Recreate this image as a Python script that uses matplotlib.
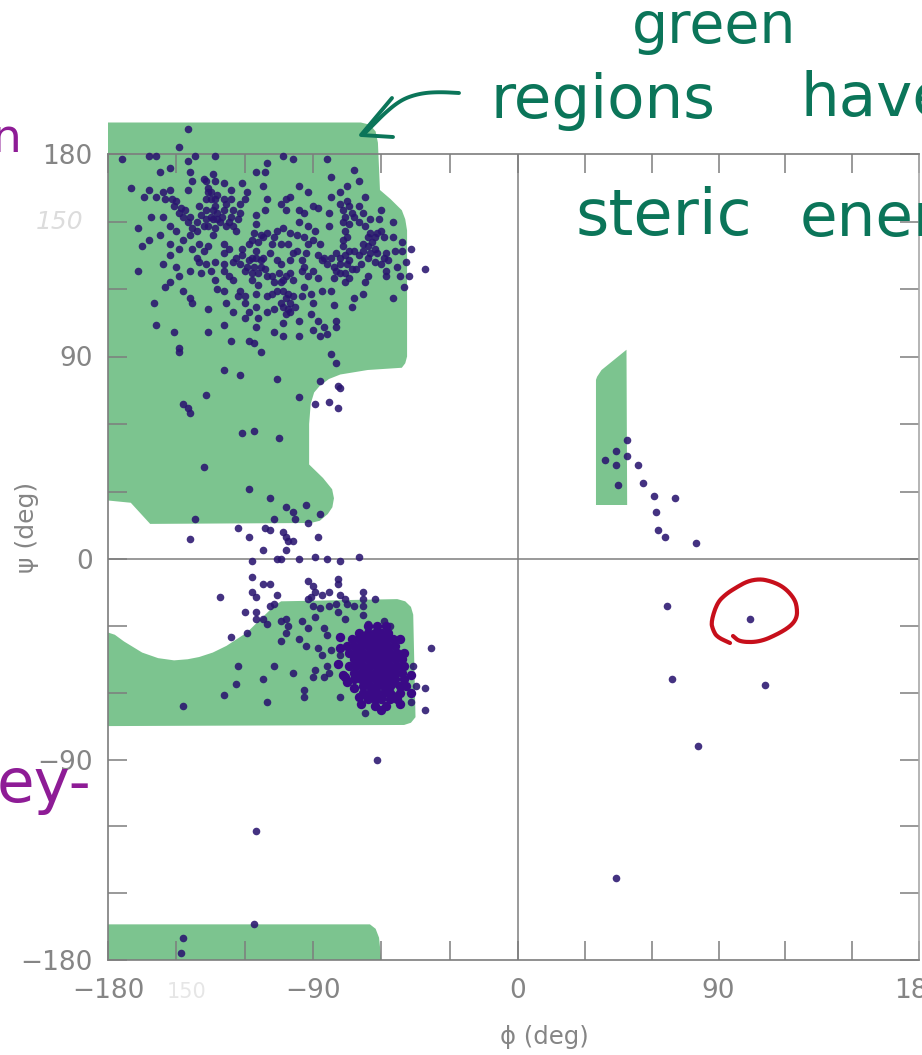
import matplotlib
matplotlib.use("Agg")

import numpy as np
import matplotlib.pyplot as plt

#tick labels
x_ticks = list(range(-180, 181, 30))
y_ticks = list(range(-180, 181, 30))
x_labels = {-180: "\u2212180", -90: "\u221290", 0: "0", 90: "90", 180: "180"}
y_labels = {-180: "\u2212180", -90: "\u221290", 0: "0", 90: "90", 180: "180"}

#green allowed regions (phi, psi)
region_beta = [(-180, 194), (-69, 194), (-65, 193), (-62.5, 190), (-61.5, 185), (-60.6, 164), (-56, 160), (-51, 155),
               (-49.5, 151), (-48.7, 146), (-48.7, 90), (-49.5, 87), (-51, 85), (-66, 84), (-78, 82), (-83, 80),
               (-87, 77), (-89.5, 74), (-91, 69), (-91.7, 60), (-91.7, 42), (-85.6, 36), (-81.6, 31), (-80.8, 27),
               (-81.5, 23), (-83.5, 20), (-87, 17), (-91, 16), (-161.5, 15.6), (-170, 25), (-180, 26)]
region_alpha = [(-180, -33), (-177, -34), (-173, -37), (-165, -42), (-158, -44.5), (-151, -45.5), (-145, -45), (-140, -44),
                (-134, -42), (-128, -39), (-119, -33), (-114, -28), (-110, -24), (-107, -21), (-104, -19), (-53, -18),
                (-49.5, -19), (-47, -21.5), (-46, -25), (-45, -71), (-47, -73.5), (-50, -74.5), (-180, -75)]
region_bottom = [(-180, -164), (-65, -164), (-62.5, -166), (-61, -170), (-60, -180), (-180, -180)]
region_left = [(35, 79.6), (35.5, 81), (37.5, 84), (48.7, 93), (49, 24), (35, 24)]

#residues, upper left
beta_pts = [(-145,191),(-149,183),(-174,178),(-162,179),(-159,179),(-145,177),(-142,179),(-133,179),(-103,179),
    (-99,178),(-84,178),(-144,172),(-153,174),(-157,172),(-115,172),(-111,172),(-110,176),(-72,173),(-82,170),
    (-170,165),(-162,164),(-164,161),(-159,161),(-156,163),(-153,164),(-145,164),(-143,168),(-138,169),(-134,171),
    (-133,168),(-136,165),(-129,167),(-121,167),(-119,163),(-112,166),(-96,166),(-92,163),(-75,166),(-70,168),
    (-78,163),(-67,161),(-82,161),(-151,157),(-148,156),(-146,155),(-144,152),(-141,150),(-138,148),(-135,152),
    (-132,154),(-129,155),(-126,152),(-123,151),(-125,148),(-133,157),(-137,160),(-140,157),(-129,160),(-126,160),
    (-122,158),(-120,160),(-136,163),(-134,151),(-132,151),(-137,151),(-161,152),(-156,152),(-167,147),(-153,148),
    (-157,144),(-150,146),(-162,142),(-165,139),(-153,140),(-153,135),(-149,138),(-147,142),(-156,131),(-150,130),
    (-167,128),(-149,126),(-153,123),(-155,121),(-139,127),(-160,114),(-159,104),(-151,101),(-136,111),(-136,101),
    (-129,104),(-147,119),(-144,116),(-143,114),(-133,124),(-132,120),(-129,119),(-126,97),(-118,97),(-116,96),
    (-149,94),(-143,138),(-140,140),(-138,137),(-141,134),(-136,139),(-137,131),(-134,144),(-129,140),(-127,138),
    (-129,136),(-121,138),(-118,140),(-116,145),(-113,144),(-112,143),(-115,149),(-115,153),(-125,132),(-122,131),
    (-119,130),(-116,130),(-113,130),(-111,129),(-117,134),(-115,137),(-109,136),(-129,128),(-110,126),(-108,126),
    (-104,131),(-102,126),(-99,124),(-104,123),(-107,123),(-108,118),(-117,124),(-114,122),(-122,119),(-120,117),
    (-123,117),(-102,116),(-100,114),(-101,111),(-104,114),(-91,109),(-94,121),(-91,118),(-90,114),(-86,119),
    (-82,119),(-81,113),(-72,116),(-73,112),(-115,112),(-120,114),(-120,107),(-114,107),(-115,103),(-110,110),
    (-103,105),(-107,101),(-103,99),(-96,106),(-96,99),(-88,106),(-85,103),(-80,106),(-80,103),(-84,100),(-87,99),
    (-106,146),(-103,147),(-100,145),(-101,140),(-99,136),(-107,143),(-104,140),(-97,144),(-94,143),(-92,148),
    (-89,146),(-90,142),(-93,136),(-95,133),(-94,130),(-90,128),(-88,125),(-100,161),(-102,160),(-110,160),
    (-104,158),(-111,155),(-102,155),(-96,155),(-94,154),(-90,157),(-88,156),(-96,150),(-83,154),(-83,148),
    (-82,134),(-84,131),(-81,130),(-78,134),(-77,139),(-74,137),(-75,131),(-78,127),(-76,123),(-80,128),(-76,146),
    (-74,149),(-77,155),(-78,158),(-74,157),(-70,157),(-68,154),(-65,151),(-61,151),(-60,155),(-55,150),(-65,145),
    (-62,145),(-59,143),(-64,141),(-68,137),(-66,134),(-69,131),(-63,132),(-60,131),(-58,128),(-66,126),(-67,123),
    (-68,118),(-55,143),(-51,141),(-51,137),(-47,138),(-53,130),(-58,126),(-52,126),(-48,126),(-50,121),(-55,116),
    (-41,129)]

#more residues where the upper left clumps overlap
beta_dense_pts = [(-137,155),(-134,155),(-131,150),(-128,148),(-125,155),(-130,152),(-127,150),(-139,153),(-136,148),
    (-133,147),(-128,158),(-124,146),(-122,154),(-149,154),(-147,152),(-145,150),(-143,147),(-141,146),(-150,159),
    (-152,160),(-155,160),(-137,168),(-135,163),(-135,160),(-133,160),(-132,162),(-126,164),(-117,142),(-114,141),
    (-115,134),(-113,133),(-118,133),(-112,134),(-120,128),(-117,127),(-114,127),(-121,135),(-124,134),(-105,127),
    (-103,124),(-100,127),(-106,119),(-103,119),(-101,118),(-99,117),(-103,112),(-100,110),(-98,112),(-102,109),
    (-107,111),(-85,134),(-80,136),(-76,135),(-74,133),(-78,131),(-72,137),(-81,125),(-76,127),(-73,129),(-74,125),
    (-77,142),(-75,143),(-66,143),(-63,143),(-60,146),(-66,139),(-63,138),(-68,140),(-65,136),(-62,136),(-59,134),
    (-57,133),(-70,135),(-71,129),(-75,159),(-72,152),(-73,154),(-76,152),(-77,150),(-70,150),(-67,148),(-100,133),
    (-97,137),(-95,128),(-92,140),(-87,140),(-86,133),(-108,140),(-110,145),(-106,133),(-129,131),(-127,126),(-125,124),
    (-133,132),(-135,128),(-140,132),(-144,128),(-144,144),(-128,114),(-125,110),(-118,110),(-110,117),(-90,102),
    (-92,126),(-88,135),(-95,117),(-115,118),(-58,136),(-54,137),(-49,132)]

#residues between the two big regions
middle_pts = [(-149,92),(-113,92),(-82,91),(-80,87),(-129,84),(-122,82),(-106,80),(-87,79),(-79,77),(-78,76),
    (-137,73),(-96,72),(-89,69),(-83,70),(-79,67),(-147,69),(-145,67),(-144,65),(-121,56),(-116,57),(-105,54),
    (-138,41),(-118,31),(-109,27),(-102,23),(-99,21),(-98,18),(-93,24),(-87,20),(-107,18),(-142,18),(-92,16),
    (-123,14),(-111,14),(-109,13),(-144,9),(-118,10),(-103,12),(-102,10),(-101,8),(-99,8),(-88,10),(-102,4),
    (-112,4),(-106,0),(-104,0),(-117,-1),(-96,0),(-89,1),(-84,0),(-78,-1),(-70,1)]

#residues, alpha helix side
alpha_pts = [(-117,-8),(-112,-11),(-109,-11),(-92,-10),(-90,-12),(-79,-9),(-79,-11),(-131,-17),(-117,-15),
    (-115,-17),(-106,-16),(-107,-20),(-109,-21),(-120,-24),(-115,-24),(-115,-27),(-112,-27),(-110,-29),(-104,-28),
    (-102,-27),(-101,-30),(-102,-33),(-104,-37),(-119,-33),(-126,-35),(-95,-28),(-92,-31),(-96,-36),(-93,-39),
    (-91,-17),(-92,-18),(-89,-15),(-86,-16),(-83,-15),(-78,-16),(-90,-21),(-87,-22),(-83,-21),(-80,-20),(-76,-18),
    (-75,-20),(-68,-15),(-68,-18),(-63,-18),(-89,-26),(-85,-31),(-84,-34),(-79,-24),(-76,-27),(-72,-21),(-68,-21),
    (-68,-25),(-66,-29),(-59,-28),(-56,-30),(-88,-40),(-86,-43),(-82,-41),(-78,-43),(-84,-48),(-83,-51),(-89,-50),
    (-90,-53),(-85,-53),(-123,-48),(-107,-48),(-99,-51),(-112,-54),(-124,-56),(-129,-61),(-147,-66),(-110,-64),
    (-94,-59),(-94,-62),(-78,-62),(-67,-69),(-47,-64),(-41,-68),(-38,-40),(-46,-48),(-45,-57),(-41,-58),(-62,-90)]

#the dense helix clump
clump_pts = [(-66,-30),(-62,-30),(-58,-30),(-70,-33),(-66,-33),(-63,-33),(-60,-33),(-57,-33),(-73,-36),(-70,-36),
    (-67,-36),(-64,-36),(-61,-36),(-58,-36),(-55,-36),(-75,-39),(-72,-39),(-69,-39),(-66,-39),(-63,-39),(-60,-39),
    (-57,-39),(-54,-39),(-74,-42),(-71,-42),(-68,-42),(-65,-42),(-62,-42),(-59,-42),(-56,-42),(-53,-42),(-72,-45),
    (-69,-45),(-66,-45),(-63,-45),(-60,-45),(-57,-45),(-54,-45),(-51,-45),(-74,-48),(-71,-48),(-68,-48),(-65,-48),
    (-62,-48),(-59,-48),(-56,-48),(-53,-48),(-50,-48),(-72,-51),(-69,-51),(-66,-51),(-63,-51),(-60,-51),(-57,-51),
    (-54,-51),(-51,-51),(-72,-54),(-69,-54),(-66,-54),(-63,-54),(-60,-54),(-57,-54),(-54,-54),(-50,-54),(-68,-57),
    (-65,-57),(-62,-57),(-59,-57),(-56,-57),(-52,-57),(-49,-57),(-68,-60),(-65,-60),(-62,-60),(-59,-60),(-56,-60),
    (-52,-60),(-66,-63),(-63,-63),(-60,-63),(-56,-63),(-53,-63),(-63,-66),(-76,-53),(-75,-55),
    (-68,-34.5),(-62,-34.5),(-65,-37.5),(-59,-37.5),(-70,-40.5),(-64,-40.5),(-58,-40.5),(-67,-43.5),(-61,-43.5),
    (-55,-43.5),(-70,-46.5),(-64,-46.5),(-58,-46.5),(-67,-49.5),(-61,-49.5),(-55,-49.5),(-70,-52.5),(-64,-52.5),
    (-58,-52.5),(-67,-55.5),(-61,-55.5),(-55,-55.5),(-64,-58.5),(-58,-58.5),(-61,-61.5),(-55,-61.5),
    (-78,-40),(-79,-47),(-77,-52),(-72,-58),(-70,-62),(-69,-65),(-58,-66),(-60,-68),(-52,-65),(-47,-52),(-47,-60),
    (-50,-42),(-52,-36),(-78,-35)]

#bottom left strip and right half
lower_pts = [(-115,-122),(-116,-164),(-147,-170),(-148,-177)]
right_pts = [(49,53),(44,48),(39,44),(49,46),(44,42),(45,33),(54,42),(56,34),(61,28),(70.5,27),(62,21),(63,13),
    (66,10),(80,7),(67,-21),(104,-27),(69,-54),(111,-56.5),(81,-84),(44,-143)]

#hand drawn strokes on the picture, in pixels
arrow_shaft = [(459,93),(440,92),(423,93),(408,97),(397,103),(385,113),(376,122),(364,134)]
arrow_head = [(392,98),(361,135),(393,137)]
red_circle = [(733,636),(740,642),(760,642),(780,633),(792,625),(797,617),(797,608),(795,600),(788,591),(780,585),
              (770,581),(760,579),(748,581),(737,587),(726,594),(717,603),(711,622),(713,630),(717,637),(730,643)]

GREEN = "#7cc48f"
GRAY = "#7d7d7d"
INK = "#0b7559"
PURPLE = "#8e1c96"
DOT = "#2a1570"

plt.rcParams["font.family"] = ["DejaVu Sans"]

fig = plt.figure(figsize=(9.22, 10.55), dpi=100)

#image is slightly stretched, so each half of the axis has its own scale
def fwd_x(v):
    v = np.asarray(v, dtype=float)
    return np.where(v < 0, v * 410 / 180, v * 401 / 180)

def inv_x(v):
    v = np.asarray(v, dtype=float)
    return np.where(v < 0, v * 180 / 410, v * 180 / 401)

def fwd_y(v):
    v = np.asarray(v, dtype=float)
    return np.where(v < 0, v * 401 / 180, v * 405 / 180)

def inv_y(v):
    v = np.asarray(v, dtype=float)
    return np.where(v < 0, v * 180 / 401, v * 180 / 405)

#rounds off a pen stroke
def smooth(points, rounds=3):
    pts = np.array(points, dtype=float)
    for i in range(rounds):
        a = pts[:-1] * 0.75 + pts[1:] * 0.25
        b = pts[:-1] * 0.25 + pts[1:] * 0.75
        mid = np.empty((len(a) * 2, 2))
        mid[0::2] = a
        mid[1::2] = b
        pts = np.vstack([pts[:1], mid, pts[-1:]])
    return pts

ax = fig.add_axes([108 / 922, 1 - 960 / 1055, (919 - 108) / 922, (960 - 154) / 1055])
ax.set_xscale("function", functions=(fwd_x, inv_x))
ax.set_yscale("function", functions=(fwd_y, inv_y))
ax.set_xlim(-180, 180)
ax.set_ylim(-180, 180)

#green regions
for region in [region_beta, region_alpha, region_bottom, region_left]:
    pts = np.array(region)
    ax.fill(pts[:, 0], pts[:, 1], color=GREEN, linewidth=0, clip_on=False, zorder=1)

#crosshair
ax.axhline(0, color=GRAY, linewidth=1.1, zorder=2)
ax.axvline(0, color=GRAY, linewidth=1.1, zorder=2)

#points
for pts_list in [beta_pts, beta_dense_pts, middle_pts, alpha_pts, lower_pts, right_pts]:
    pts = np.array(pts_list)
    ax.scatter(pts[:, 0], pts[:, 1], s=30, color=DOT, alpha=0.88, linewidths=0, clip_on=False, zorder=3)
pts = np.array(clump_pts)
ax.scatter(pts[:, 0], pts[:, 1], s=46, color="#3a0a86", linewidths=0, zorder=3)

#axes and ticks
for side in ["left", "right", "top", "bottom"]:
    ax.spines[side].set_color(GRAY)
    ax.spines[side].set_linewidth(1.2)
    ax.spines[side].set_zorder(2.5)
ax.spines["right"].set_color("#a8a8a8")
ax.set_xticks(x_ticks)
ax.set_yticks(y_ticks)
ax.set_xticklabels([x_labels.get(t, "") for t in x_ticks])
ax.set_yticklabels([y_labels.get(t, "") for t in y_ticks])
ax.minorticks_off()
ax.tick_params(axis="both", direction="in", length=14, width=1.1, color=GRAY, labelcolor="#858585",
               labelsize=19, top=True, right=True)
ax.tick_params(axis="x", pad=13)
ax.tick_params(axis="y", pad=11)

#overlay in pixel coordinates for labels and handwriting
over = fig.add_axes([0, 0, 1, 1])
over.set_xlim(0, 922)
over.set_ylim(1055, 0)
over.axis("off")
over.patch.set_alpha(0)

over.text(544, 1037, "\u03d5 (deg)", color="#858585", fontsize=17.5, ha="center", va="center")
over.text(27, 527, "\u03c8 (deg)", color="#858585", fontsize=18, rotation=90, ha="center", va="center")

#erased tick labels that still show faintly
over.text(60, 222, "150", color="#dcdcdc", fontsize=18, style="italic", ha="center", va="center")
over.text(187, 992, "150", color="#e6e6e6", fontsize=15, ha="center", va="center")

#handwritten notes
hand = dict(color=INK, ha="left", va="baseline")
over.text(632, 43, "green", fontsize=41, **hand)
over.text(490, 118, "regions", fontsize=44, **hand)
over.text(800, 116, "have", fontsize=44, **hand)
over.text(575, 235, "steric", fontsize=46, **hand)
over.text(800, 236, "energy", fontsize=44, **hand)
over.text(-8, 152, "n", color=PURPLE, fontsize=34, ha="left", va="baseline")
over.text(-3, 802, "ey-", color=PURPLE, fontsize=44, ha="left", va="baseline")

pts = smooth(arrow_shaft)
over.plot(pts[:, 0], pts[:, 1], color=INK, linewidth=2.8, solid_capstyle="round", solid_joinstyle="round")
pts = np.array(arrow_head)
over.plot(pts[:, 0], pts[:, 1], color=INK, linewidth=2.8, solid_capstyle="round", solid_joinstyle="round")
pts = smooth(red_circle)
over.plot(pts[:, 0], pts[:, 1], color="#c70f1b", linewidth=3, solid_capstyle="round", solid_joinstyle="round")

fig.savefig("out.png", dpi=100)
